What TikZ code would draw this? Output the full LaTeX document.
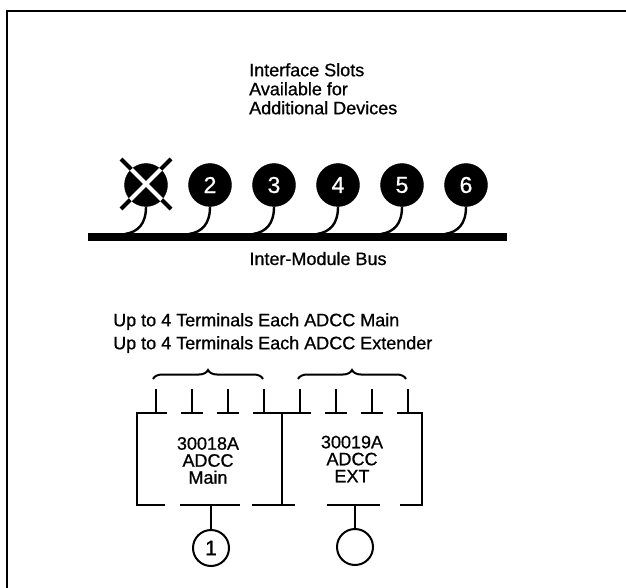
\documentclass[tikz,border=0pt]{standalone}
\usepackage{fontspec}
\setmainfont{Liberation Sans}[FakeBold=0.8]
\usetikzlibrary{decorations.pathreplacing}
\tikzset{
	slot/.style={circle,fill=black,draw=black,minimum size=43pt,inner sep=0pt,text=white,font=\fontsize{23}{23}\selectfont},
	port/.style={circle,draw=black,line width=2pt,minimum size=36pt,inner sep=0pt,font=\fontsize{21}{21}\selectfont},
	txt/.style={inner sep=0pt,font=\fontsize{18}{19}\selectfont},
	boxtxt/.style={inner sep=0pt,align=center,font=\fontsize{18}{17}\selectfont},
	wire/.style={line width=2.4pt},
	busline/.style={line width=8pt},
	boxline/.style={line width=2pt},
	curly/.style={line width=2pt,decorate,decoration={brace,amplitude=9pt}}
}

\begin{document}
\begin{tikzpicture}[x=1pt,y=-1pt]
	\useasboundingbox (0,0) rectangle (626,588);
	% frame of the panel
	\draw[boxline] (7,588) -- (7,11) -- (626,11);
	
	% heading over the slots
	\node[txt,anchor=north west,align=left] (heading) at (249,63) {Interface Slots\\Available for\\Additional Devices};
	
	% the bus
	\coordinate (busL) at (88,237);
	\coordinate (busR) at (507,237);
	\draw[busline] (busL) -- (busR);
	\node[txt,anchor=base] (busname) at (318,265) {Inter-Module Bus};
	
	% interface slots
	\node[slot] (s1) at (146,185) {};
	\node[slot] (s2) at (210,185) {2};
	\node[slot] (s3) at (274,185) {3};
	\node[slot] (s4) at (338,185) {4};
	\node[slot] (s5) at (402,185) {5};
	\node[slot] (s6) at (466,185) {6};
	% slot 1 is taken: cross it out
	\draw[line width=4pt] (121,159) -- (171,209) (171,159) -- (121,209);
	\begin{scope}
		\clip (s1) circle (21.5);
		\draw[line width=4pt,white] (121,159) -- (171,209) (171,159) -- (121,209);
	\end{scope}
	
	% wires down to the bus
	\draw[wire] (s1.south) .. controls (146,224) and (138,232) .. (125,234);
	\draw[wire] (s2.south) .. controls (210,224) and (202,232) .. (189,234);
	\draw[wire] (s3.south) .. controls (274,224) and (266,232) .. (253,234);
	\draw[wire] (s4.south) .. controls (338,224) and (330,232) .. (317,234);
	\draw[wire] (s5.south) .. controls (402,224) and (394,232) .. (381,234);
	\draw[wire] (s6.south) .. controls (466,224) and (458,232) .. (445,234);
	
	% terminal counts
	\node[txt,anchor=north west,align=left,font=\fontsize{18}{23}\selectfont] (terms) at (113,313) {Up to 4 Terminals Each ADCC Main\\Up to 4 Terminals Each ADCC Extender};
	
	% braces over the terminals
	\draw[curly] (153,379) -- (263,379);
	\draw[curly] (298,379) -- (406,379);
	
	% terminals
	\draw[boxline] (156,389) -- (156,413) (192,389) -- (192,413) (228,389) -- (228,413) (264,389) -- (264,413)
		(300,389) -- (300,413) (336,389) -- (336,413) (372,389) -- (372,413) (408,389) -- (408,413);
	
	% the two boxes, drawn broken
	\draw[boxline] (167,413) -- (137,413) -- (137,505) -- (165,505);
	\draw[boxline] (397,413) -- (422,413) -- (422,505) -- (400,505);
	\draw[boxline] (181,413) -- (203,413) (217,413) -- (239,413) (253,413) -- (311,413)
		(325,413) -- (347,413) (361,413) -- (383,413);
	\draw[boxline] (282,413) -- (282,505);
	\draw[boxline] (180,505) -- (240,505) (252,505) -- (295,505) (327,505) -- (380,505);
	\node[boxtxt] (main) at (208,460.5) {30018A\\ADCC\\Main};
	\node[boxtxt] (ext) at (352,459) {30019A\\ADCC\\EXT};
	
	% ports below the boxes
	\node[port] (p1) at (211,548) {1};
	\node[port] (p2) at (355,547) {};
	\coordinate (d1) at (211,505);
	\coordinate (d2) at (355,505);
	\draw[boxline] (d1) -- (p1);
	\draw[boxline] (d2) -- (p2);
\end{tikzpicture}
\end{document}
